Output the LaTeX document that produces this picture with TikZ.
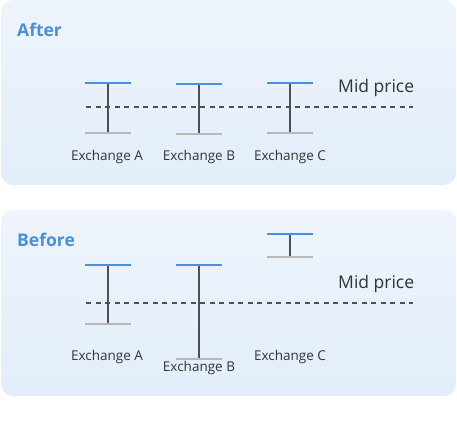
\documentclass[tikz,border=0pt]{standalone}
\usepackage{fontspec}
\setmainfont{Open Sans}
\definecolor{panelA}{HTML}{EEF4FB}
\definecolor{panelB}{HTML}{E2EEFB}
\definecolor{titleblue}{HTML}{4A90D9}
\definecolor{bidblue}{HTML}{4A90E2}
\definecolor{askgray}{HTML}{B8B8B8}
\definecolor{stem}{HTML}{4F4F4F}
\definecolor{txt}{HTML}{333333}
\tikzset{
  panel/.style={rounded corners=12pt, top color=panelA, bottom color=panelB, draw=none},
  title/.style={font=\bfseries\fontsize{17.5}{20}\selectfont, text=titleblue, anchor=west, inner sep=0pt},
  exlabel/.style={font=\fontsize{13.5}{15}\selectfont, text=txt, inner sep=0pt},
  midlabel/.style={font=\fontsize{17.5}{20}\selectfont, text=txt, anchor=west, inner sep=0pt},
  topbar/.style={draw=bidblue, line width=2pt},
  botbar/.style={draw=askgray, line width=2pt},
  stemline/.style={draw=stem, line width=2pt},
  midline/.style={draw=stem, line width=1.1pt, dash pattern=on 5pt off 4.5pt}
}
\newcommand{\spread}[3]{% x, top y, bottom y
  \draw[stemline] (#1,#2) -- (#1,#3);
  \draw[topbar] (#1-23,#2) -- (#1+23,#2);
  \draw[botbar] (#1-23,#3) -- (#1+23,#3);
}
\begin{document}
\begin{tikzpicture}[x=1pt,y=-1pt]
\useasboundingbox (0,0) rectangle (457,433);
% After panel
\path[panel] (1,0) rectangle (456,185);
\node[title] (after) at (17,30) {After};
\draw[midline] (86,107) -- (413,107);
\spread{108}{83}{133}
\spread{199}{84}{133.5}
\spread{290}{83}{132.5}
\node[midlabel] (mid1) at (338,88) {Mid price};
\node[exlabel] (a1) at (107,157) {Exchange A};
\node[exlabel] (b1) at (199,157) {Exchange B};
\node[exlabel] (c1) at (290,157) {Exchange C};
% Before panel
\path[panel] (1,210) rectangle (456,396);
\node[title] (before) at (17,240) {Before};
\draw[midline] (86,303) -- (413,303);
\spread{108}{265}{324}
\spread{199}{265}{359}
\spread{290}{234}{257}
\node[midlabel] (mid2) at (338,284) {Mid price};
\node[exlabel] (a2) at (107,357) {Exchange A};
\node[exlabel] (b2) at (199,368) {Exchange B};
\node[exlabel] (c2) at (290,357) {Exchange C};
\end{tikzpicture}
\end{document}
